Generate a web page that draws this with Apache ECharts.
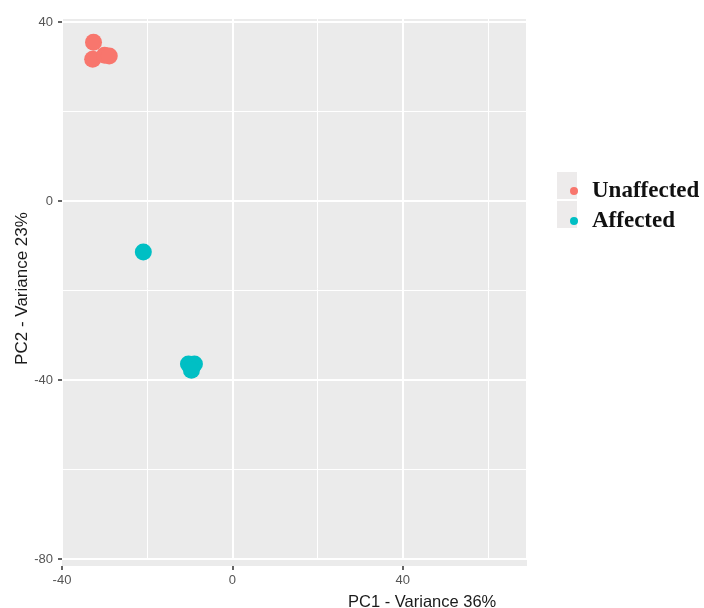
<!DOCTYPE html>
<html>
<head>
<meta charset="utf-8">
<script src="https://cdn.jsdelivr.net/npm/echarts@6/dist/echarts.min.js"></script>
<style>html,body{margin:0;padding:0;background:#fff;}#c{width:704px;height:608px;}</style>
</head>
<body>
<div id="c"></div>
<script>
const groups = ['Unaffected', 'Affected'];
const unaffectedPC1 = [-32.6, -32.8, -30.0, -28.9];
const unaffectedPC2 = [35.5, 31.7, 32.6, 32.4];
const affectedPC1 = [-20.9, -10.3, -8.9, -9.6];
const affectedPC2 = [-11.4, -36.4, -36.4, -37.8];
const xTickLabels = [-40, 0, 40];
const yTickLabels = [-80, -40, 0, 40];
const xTitle = 'PC1 - Variance 36%';
const yTitle = 'PC2 - Variance 23%';
const colors = ['#F8766D', '#00BFC4'];

const pairs = (xs, ys) => xs.map((x, i) => [x, ys[i]]);

const chart = echarts.init(document.getElementById('c'), null, {renderer: 'canvas'});
const gridL = 62, gridR = 177, gridT = 18, gridB = 49;
const tickFont = {color: '#555', fontSize: 13, fontFamily: 'Liberation Sans, Arial, sans-serif'};

const option = {
  animation: false,
  backgroundColor: '#fff',
  title: {
    text: xTitle, left: 343, top: 589,
    textStyle: {fontSize: 16.5, fontWeight: 'normal', color: '#1a1a1a', fontFamily: 'Liberation Sans, Arial, sans-serif'}
  },
  grid: {left: gridL, right: gridR, top: gridT, bottom: gridB, show: true, backgroundColor: '#EBEBEB', borderWidth: 0, containLabel: false, outerBoundsMode: 'none'},
  graphic: [
    {type: 'rect', shape: {x: gridL, y: 608 - gridB, width: 704 - gridL - gridR, height: 7}, style: {fill: '#EBEBEB'}, z: -1},
    {type: 'rect', shape: {x: 557, y: 172, width: 20, height: 27}, style: {fill: '#EDEBEB'}, z: -1},
    {type: 'rect', shape: {x: 557, y: 201, width: 20, height: 27}, style: {fill: '#EDEBEB'}, z: -1}
  ],
  legend: {
    data: groups,
    orient: 'vertical', left: 565, top: 171,
    icon: 'circle', itemWidth: 8, itemHeight: 8, itemGap: 0,
    textStyle: {fontSize: 23, fontWeight: 'bold', color: '#111', fontFamily: 'Liberation Serif, Times New Roman, serif', lineHeight: 30, padding: [0, 0, 0, 9]}
  },
  xAxis: [
    {
      type: 'value', min: -40, max: 69.2, interval: 20, gridIndex: 0, offset: 7,
      axisLine: {show: false, onZero: false}, axisTick: {show: false}, axisLabel: {show: false},
      splitLine: {show: true, lineStyle: {color: '#fff', width: 1}}
    },
    {
      type: 'value', min: -40, max: 69.2, interval: 40, gridIndex: 0, offset: 7, position: 'bottom',
      axisLine: {show: false, onZero: false},
      axisTick: {show: true, length: 4, lineStyle: {color: '#333', width: 1.5}},
      axisLabel: Object.assign({margin: 8, showMaxLabel: false, formatter: v => xTickLabels.includes(v) ? String(v) : ''}, tickFont),
      splitLine: {show: true, lineStyle: {color: '#fff', width: 2}}
    }
  ],
  yAxis: [
    {
      type: 'value', min: -80, max: 40.9, interval: 20, gridIndex: 0,
      axisLine: {show: false, onZero: false}, axisTick: {show: false}, axisLabel: {show: false},
      splitLine: {show: true, lineStyle: {color: '#fff', width: 1}}
    },
    {
      type: 'value', min: -80, max: 40.9, interval: 40, gridIndex: 0, position: 'left',
      name: yTitle, nameLocation: 'middle', nameGap: 31, nameRotate: 90, nameMoveOverlap: false,
      nameTextStyle: {fontSize: 17, color: '#1a1a1a', fontFamily: 'Liberation Sans, Arial, sans-serif'},
      axisLine: {show: false, onZero: false},
      axisTick: {show: true, length: 4, lineStyle: {color: '#333', width: 1.5}},
      axisLabel: Object.assign({margin: 9, showMaxLabel: false, formatter: v => yTickLabels.includes(v) ? String(v) : ''}, tickFont),
      splitLine: {show: true, lineStyle: {color: '#fff', width: 2}}
    }
  ],
  series: [
    {name: groups[0], type: 'scatter', xAxisIndex: 1, yAxisIndex: 1, data: pairs(unaffectedPC1, unaffectedPC2), symbolSize: 17, itemStyle: {color: colors[0], opacity: 1}},
    {name: groups[1], type: 'scatter', xAxisIndex: 1, yAxisIndex: 1, data: pairs(affectedPC1, affectedPC2), symbolSize: 17, itemStyle: {color: colors[1], opacity: 1}}
  ]
};
chart.setOption(option);
</script>
</body>
</html>
